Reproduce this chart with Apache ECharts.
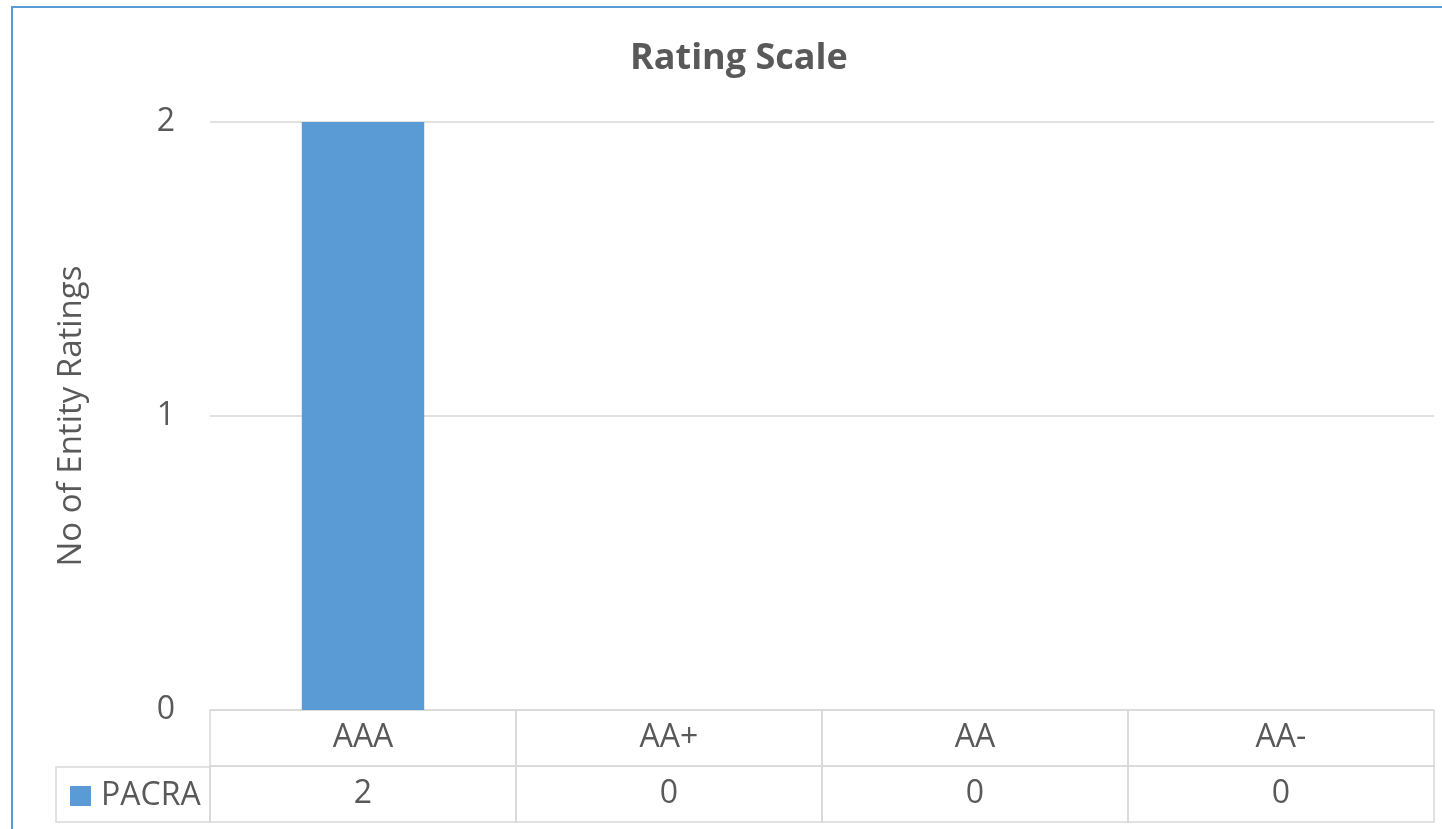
<!DOCTYPE html>
<html>
<head>
<meta charset="utf-8">
<script src="https://cdn.jsdelivr.net/npm/echarts@6.0.0/dist/echarts.min.js"></script>
<style>
  html, body { margin: 0; padding: 0; overflow: hidden; background: #fff; }
  #chart { position: absolute; left: 0; top: 0; width: 1442px; height: 829px; }
  #frame { position: absolute; left: 11px; top: 6px; width: 2000px; height: 2000px;
           border: 2px solid #5b9bd5; pointer-events: none; }
</style>
</head>
<body>
<div id="chart"></div>
<div id="frame"></div>
<script>
// 数据
const categories = ['AAA', 'AA+', 'AA', 'AA-']
const seriesName = 'PACRA'
const pacra = [2, 0, 0, 0]
const yTicks = [0, 1, 2]

const FONT = '"Open Sans", "Noto Sans", sans-serif'
const TEXT = '#595959'
const LINE = '#d9d9d9'
const BLUE = '#5b9bd5'

// 表格单元格：[列, 行]，行 1 = 表头，行 0 = 数值
const tableCells = []
categories.forEach((c, i) => {
  tableCells.push([i, 1])
  tableCells.push([i, 0])
})

const chart = echarts.init(document.getElementById('chart'))

chart.setOption({
  animation: false,
  title: {
    text: 'Rating Scale',
    left: 625,
    top: 36,
    textStyle: { fontFamily: FONT, fontSize: 36, fontWeight: 'bold', color: TEXT }
  },
  legend: {
    data: [seriesName],
    left: 65,
    top: 775,
    icon: 'rect',
    itemWidth: 21,
    itemHeight: 20,
    selectedMode: false,
    textStyle: { fontFamily: FONT, fontSize: 32, color: TEXT, padding: [0, 0, 0, 5] }
  },
  grid: [
    { left: 210, right: 8, top: 122, bottom: 119 },
    { left: 210, right: 8, top: 710, height: 112 },
    { left: 56, width: 154, top: 767, height: 55 }
  ],
  xAxis: [
    {
      type: 'category',
      gridIndex: 0,
      data: categories,
      axisLine: { show: false },
      axisTick: { show: false },
      axisLabel: { show: false }
    },
    { type: 'category', gridIndex: 1, data: categories, show: false },
    { type: 'category', gridIndex: 2, data: [seriesName], show: false }
  ],
  yAxis: [
    {
      type: 'value',
      gridIndex: 0,
      min: yTicks[0],
      max: yTicks[yTicks.length - 1],
      interval: 1,
      name: 'No of Entity Ratings',
      nameLocation: 'middle',
      nameGap: 122,
      nameTextStyle: { fontFamily: FONT, fontSize: 33, color: TEXT },
      axisLine: { show: false },
      axisTick: { show: false },
      axisLabel: { fontFamily: FONT, fontSize: 32, color: TEXT, margin: 35 },
      splitLine: { lineStyle: { color: LINE, width: 1.5 } }
    },
    { type: 'category', gridIndex: 1, data: ['value', 'header'], show: false },
    { type: 'category', gridIndex: 2, data: [seriesName], show: false }
  ],
  series: [
    {
      name: seriesName,
      type: 'bar',
      xAxisIndex: 0,
      yAxisIndex: 0,
      barWidth: '40%',
      itemStyle: { color: BLUE },
      data: pacra
    },
    {
      // 数据表
      type: 'custom',
      xAxisIndex: 1,
      yAxisIndex: 1,
      silent: true,
      data: tableCells,
      renderItem: function (params, api) {
        const col = api.value(0)
        const row = api.value(1)
        const c = api.coord([col, row])
        const s = api.size([1, 1])
        const label = row === 1 ? categories[col] : String(pacra[col])
        return {
          type: 'group',
          children: [
            {
              type: 'rect',
              shape: { x: c[0] - s[0] / 2, y: c[1] - s[1] / 2, width: s[0], height: s[1] },
              style: { fill: null, stroke: LINE, lineWidth: 1.5 }
            },
            {
              type: 'text',
              style: {
                text: label, x: c[0], y: c[1], align: 'center', verticalAlign: 'middle',
                fontFamily: FONT, fontSize: 32, fill: TEXT
              }
            }
          ]
        }
      }
    },
    {
      // 图例单元格边框
      type: 'custom',
      xAxisIndex: 2,
      yAxisIndex: 2,
      silent: true,
      data: [[0, 0]],
      renderItem: function (params, api) {
        const c = api.coord([0, 0])
        const s = api.size([1, 1])
        return {
          type: 'rect',
          shape: { x: c[0] - s[0] / 2, y: c[1] - s[1] / 2, width: s[0], height: s[1] },
          style: { fill: null, stroke: LINE, lineWidth: 1.5 }
        }
      }
    }
  ]
})
</script>
</body>
</html>
